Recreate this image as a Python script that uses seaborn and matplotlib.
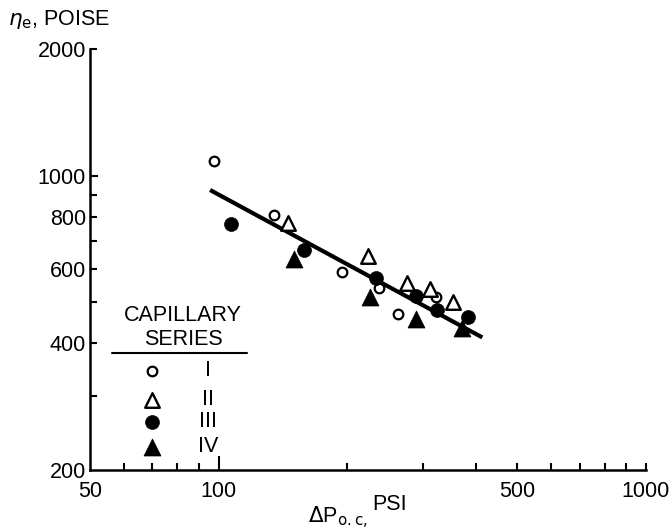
import matplotlib
matplotlib.use("Agg")
import matplotlib.pyplot as plt
from matplotlib.lines import Line2D
from matplotlib.ticker import NullFormatter
import seaborn as sns

# Apparent viscosity vs. pressure drop, four capillary series
s1_dp = [97.5, 135, 194, 237, 263, 322]
s1_eta = [1085, 805, 592, 541, 470, 515]
s2_dp = [145, 224, 276, 313, 353]
s2_eta = [773, 643, 557, 538, 502]
s3_dp = [107, 158, 233, 289, 325, 384]
s3_eta = [769, 667, 571, 518, 481, 462]
s4_dp = [150, 226, 289, 371]
s4_eta = [635, 515, 456, 436]

# correlation line
fit_dp = [95.5, 414]
fit_eta = [925, 413]

series_names = ["I", "II", "III", "IV"]
x_ticks = [50, 100, 500, 1000]
x_tick_labels = ["50", "100", "500", "1000"]
x_minor = [60, 70, 80, 90, 200, 300, 400, 600, 700, 800, 900]
y_ticks = [200, 400, 600, 800, 1000, 2000]
y_tick_labels = ["200", "400", "600", "800", "1000", "2000"]
y_minor = [300, 500, 700, 900]

sns.set_style("white")
plt.rcParams["font.family"] = ["Liberation Sans", "DejaVu Sans"]
plt.rcParams["mathtext.fontset"] = "dejavusans"

FS = 15.5
INK = "black"

fig = plt.figure(figsize=(6.71, 5.31), dpi=100)
ax = fig.add_axes([0.1341, 0.1149, 0.8286, 0.7928])

styles = [
    dict(marker="o", s=48, color="white", edgecolor=INK, linewidth=1.6),
    dict(marker="^", s=110, color="white", edgecolor=INK, linewidth=1.7),
    dict(marker="o", s=100, color=INK, edgecolor=INK, linewidth=0.5),
    dict(marker="^", s=150, color=INK, edgecolor=INK, linewidth=0.5),
]
data = [(s1_dp, s1_eta), (s2_dp, s2_eta), (s3_dp, s3_eta), (s4_dp, s4_eta)]
for (xs, ys), st in zip(data, styles):
    sns.scatterplot(x=xs, y=ys, ax=ax, zorder=3, clip_on=False, **st)

sns.lineplot(x=fit_dp, y=fit_eta, ax=ax, color=INK, linewidth=3.0,
             zorder=2, solid_capstyle="butt")

ax.set_xscale("log")
ax.set_yscale("log")
ax.set_xlim(50, 1000)
ax.set_ylim(200, 2000)

ax.set_xticks(x_ticks, labels=x_tick_labels)
ax.set_xticks(x_minor, minor=True)
ax.set_yticks(y_ticks, labels=y_tick_labels)
ax.set_yticks(y_minor, minor=True)
ax.xaxis.set_minor_formatter(NullFormatter())
ax.yaxis.set_minor_formatter(NullFormatter())

for side in ("top", "right"):
    ax.spines[side].set_visible(False)
for side in ("left", "bottom"):
    ax.spines[side].set_linewidth(1.8)
    ax.spines[side].set_color(INK)

ax.tick_params(which="both", direction="in", color=INK, width=1.5,
               bottom=True, left=True, top=False, right=False,
               labelsize=FS, labelcolor=INK)
ax.tick_params(axis="x", which="major", pad=8)
ax.tick_params(axis="y", which="major", pad=3)
ax.tick_params(which="minor", length=5)

x_lengths = [0, 10, 5, 5]
for t, L in zip(ax.xaxis.get_major_ticks(), x_lengths):
    t.tick1line.set_markersize(L)
y_lengths = [0, 5, 5, 5, 6, 5]
for t, L in zip(ax.yaxis.get_major_ticks(), y_lengths):
    t.tick1line.set_markersize(L)

ax.set_xlabel("")
ax.set_ylabel("")

# axis titles
fig.text(8 / 671, 1 - 25 / 531, r"$\eta_{\rm e}$, POISE", fontsize=FS,
         ha="left", va="baseline", color=INK)
fig.text(308 / 671, 1 - 523 / 531, r"$\Delta$P$_{\rm o.c,}$", fontsize=FS,
         ha="left", va="baseline", color=INK)
fig.text(372 / 671, 1 - 510 / 531, "PSI", fontsize=FS,
         ha="left", va="baseline", color=INK)

# series key
tr = ax.transAxes
ax.text(0.1673, 0.3675, "CAPILLARY", transform=tr, fontsize=FS,
        ha="center", va="center", color=INK)
ax.text(0.1673, 0.310, "SERIES", transform=tr, fontsize=FS,
        ha="center", va="center", color=INK)
ax.add_line(Line2D([0.0396, 0.2824], [0.2768, 0.2768], transform=tr,
                   color=INK, linewidth=1.5, clip_on=False))
row_y = [0.2363, 0.167, 0.1146, 0.0549]
for yy, st, name in zip(row_y, styles, series_names):
    ax.scatter([0.1115], [yy], transform=tr, clip_on=False, zorder=3, **st)
    ax.text(0.2122, yy, name, transform=tr, fontsize=FS,
            ha="center", va="center", color=INK)

fig.savefig("out.png", dpi=100)
